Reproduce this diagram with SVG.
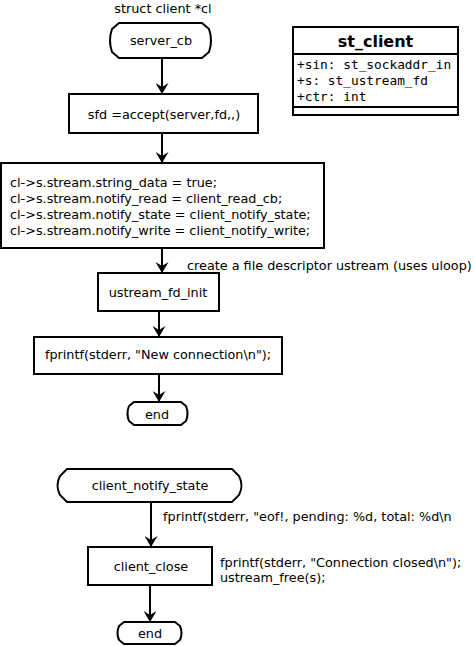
<svg xmlns="http://www.w3.org/2000/svg" width="474" height="646" viewBox="0 0 474 646">
<style>
.box{fill:#fff;stroke:#000;stroke-width:2}
.t{font-family:"DejaVu Sans",sans-serif;font-size:12.8px;fill:#000}
.c{text-anchor:middle}
.m{font-family:"DejaVu Sans Mono",monospace;font-size:12.8px;fill:#000}
.b{font-family:"DejaVu Sans",sans-serif;font-size:16px;font-weight:bold;text-anchor:middle}
.e{fill:none;stroke:#000;stroke-width:2}
</style>
<defs>
<marker id="ah" viewBox="0 0 11 13" refX="11" refY="6.5" markerWidth="11" markerHeight="13" markerUnits="userSpaceOnUse" orient="auto">
<path d="M0,0 L11,6.5 L0,13 L4,6.5 Z" fill="#000"/>
</marker>
</defs>
<text class="t c" x="163" y="13">struct client *cl</text>
<g id="server_cb">
<path class="box" d="M119,23 H202 L209,29 Q213,40.5 209,52 L202,58 H119 L112,52 Q108,40.5 112,29 Z"/>
<text class="t c" x="161" y="45">server_cb</text>
</g>
<g id="accept">
<rect class="box" x="69" y="94" width="189" height="39"/>
<text class="t c" x="164" y="118.5">sfd =accept(server,fd,,)</text>
</g>
<g id="assign">
<rect class="box" x="1" y="163" width="323" height="85"/>
<text class="t" x="10" y="186.5">cl-&gt;s.stream.string_data = true;</text>
<text class="t" x="10" y="202.5">cl-&gt;s.stream.notify_read = client_read_cb;</text>
<text class="t" x="10" y="218.5">cl-&gt;s.stream.notify_state = client_notify_state;</text>
<text class="t" x="10" y="234.5">cl-&gt;s.stream.notify_write = client_notify_write;</text>
</g>
<g id="ustream_fd_init">
<rect class="box" x="98" y="273" width="121" height="38"/>
<text class="t c" x="158" y="296.5">ustream_fd_init</text>
</g>
<g id="fprintf_new">
<rect class="box" x="34" y="337" width="248" height="37"/>
<text class="t c" x="158" y="359">fprintf(stderr, "New connection\n");</text>
</g>
<g id="end1">
<path class="box" d="M134,402 H181 L186,406 Q189,413.5 186,421 L181,425 H134 L129,421 Q126,413.5 129,406 Z"/>
<text class="t c" x="157" y="418.5">end</text>
</g>
<g id="st_client">
<rect class="box" x="293" y="27" width="165" height="88"/>
<line class="e" x1="293" y1="54" x2="458" y2="54"/>
<line class="e" x1="293" y1="107" x2="458" y2="107"/>
<text class="b" x="375.5" y="47">st_client</text>
<text class="m" x="297" y="69">+sin: st_sockaddr_in</text>
<text class="m" x="297" y="85">+s: st_ustream_fd</text>
<text class="m" x="297" y="101">+ctr: int</text>
</g>
<g id="client_notify_state">
<path class="box" d="M67,469 H232 L239,476 Q244,485.5 239,495 L232,502 H67 L60,495 Q55,485.5 60,476 Z"/>
<text class="t c" x="150" y="489.5">client_notify_state</text>
</g>
<g id="client_close">
<rect class="box" x="88" y="547" width="124" height="38"/>
<text class="t c" x="151" y="570.5">client_close</text>
</g>
<g id="end2">
<path class="box" d="M124,622 H175 L180,626 Q183,633 180,640 L175,644 H124 L119,640 Q116,633 119,626 Z"/>
<text class="t c" x="150" y="637.5">end</text>
</g>
<g id="connectors">
<line class="e" x1="162" y1="58" x2="162" y2="94" marker-end="url(#ah)"/>
<line class="e" x1="162" y1="133" x2="162" y2="163" marker-end="url(#ah)"/>
<line class="e" x1="162" y1="248" x2="162" y2="273" marker-end="url(#ah)"/>
<line class="e" x1="159" y1="311" x2="159" y2="337" marker-end="url(#ah)"/>
<line class="e" x1="159" y1="374" x2="159" y2="402" marker-end="url(#ah)"/>
<line class="e" x1="151" y1="502" x2="151" y2="547" marker-end="url(#ah)"/>
<line class="e" x1="150" y1="585" x2="150" y2="622" marker-end="url(#ah)"/>
<text class="t" x="187" y="270">create a file descriptor ustream (uses uloop)</text>
<text class="t" x="163" y="520.5">fprintf(stderr, "eof!, pending: %d, total: %d\n</text>
<text class="t" x="220" y="566.5">fprintf(stderr, "Connection closed\n");</text>
<text class="t" x="220" y="581.5">ustream_free(s);</text>
</g>
</svg>
